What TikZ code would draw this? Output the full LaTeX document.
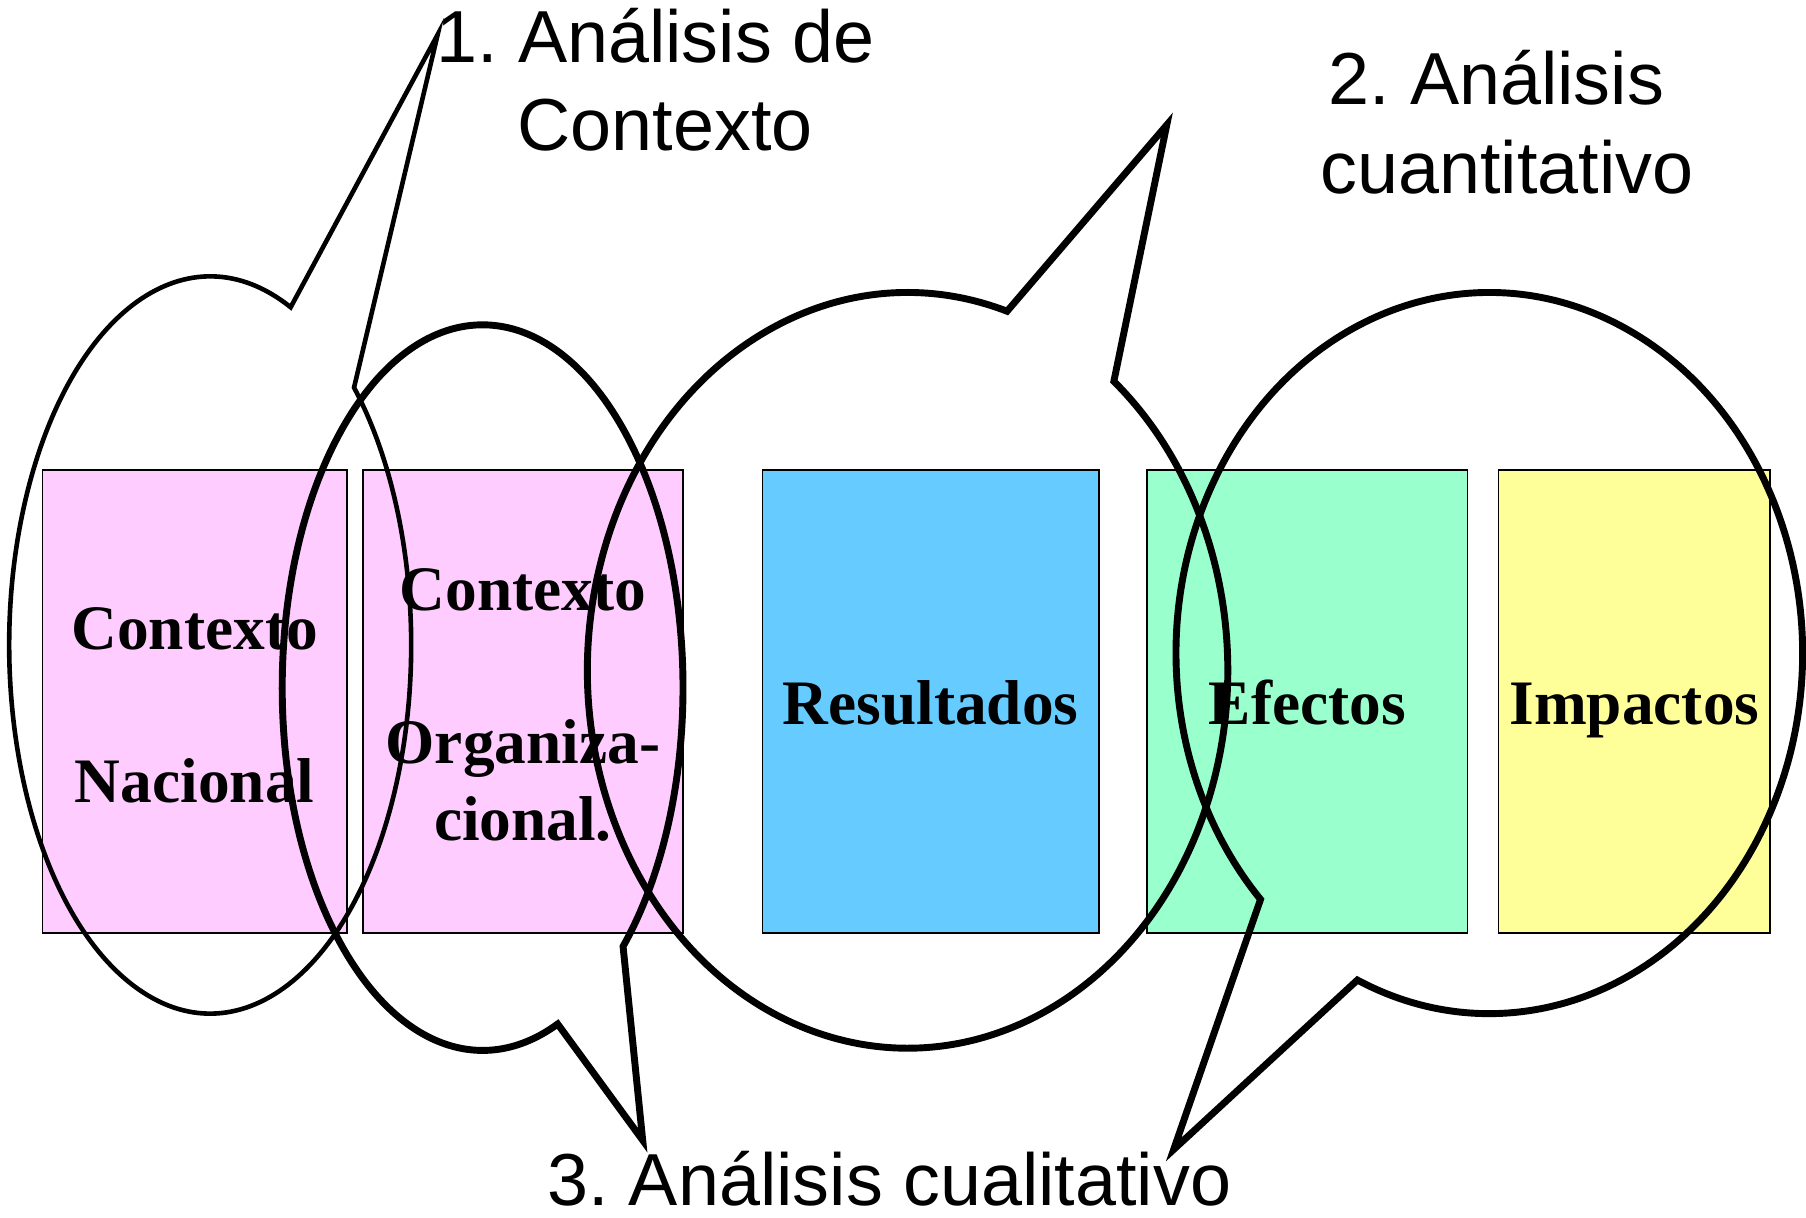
\documentclass[tikz,border=0pt]{standalone}
\usepackage{fontspec}
\setmainfont{Liberation Serif}
\newfontfamily\lsans{Liberation Sans}
\definecolor{cpink}{HTML}{FFCCFF}
\definecolor{cblue}{HTML}{66CCFF}
\definecolor{cgreen}{HTML}{99FFCC}
\definecolor{cyellow}{HTML}{FFFF99}
\frenchspacing
\begin{document}
\begin{tikzpicture}[x=1pt,y=1pt,
  box/.style={draw=black, line width=1.5pt, inner sep=0pt, align=center,
    minimum height=402pt, font=\fontsize{55}{66.5}\selectfont\bfseries},
  single/.style={text height=40pt, text depth=0pt},
  lbl/.style={anchor=base, inner sep=0pt, font=\lsans\fontsize{64}{77}\selectfont},
  thinball/.style={line width=4pt, line join=miter},
  thickball/.style={line width=6pt, line join=miter}]
\useasboundingbox (0,0) rectangle (1568,1057);

% boxes
\node[box, fill=cpink, minimum width=264pt] (r1) at (169,448) {\rule{0pt}{43pt}Contexto\\[66.5pt]Nacional};
\node[box, fill=cpink, minimum width=278pt] (r2) at (454,448) {\rule{0pt}{42pt}Contexto\\[66.5pt]Organiza-\\cional.};
\node[box, single, fill=cblue, minimum width=292pt] (r3) at (808,448) {Resultados};
\node[box, single, fill=cgreen, minimum width=278pt] (r4) at (1135,448) {Efectos};
\node[box, single, fill=cyellow, minimum width=236pt] (r5) at (1419,448) {Impactos};

% callouts
\coordinate (ca) at (182.5,497);
\coordinate (pa) at (380,1027);
\draw[thinball] (ca) ++(66.4:174.5 and 320)
  arc[start angle=66.4, end angle=404.3, x radius=174.5pt, y radius=320pt] -- (pa) -- cycle;

\coordinate (cb) at (419,460);
\coordinate (pb) at (558,67);
\draw[thickball] (cb) ++(-45.5:174 and 315)
  arc[start angle=-45.5, end angle=292, x radius=174pt, y radius=315pt] -- (pb) -- cycle;

\coordinate (cc) at (788,475);
\coordinate (pc) at (1013,948.5);
\draw[thickball] (cc) ++(71.9:278 and 328)
  arc[start angle=71.9, end angle=409.9, x radius=278pt, y radius=328pt] -- (pc) -- cycle;

\coordinate (cd) at (1293,490);
\coordinate (pd) at (1019,59);
\draw[thickball] (cd) ++(245.1:272 and 313)
  arc[start angle=245.1, end angle=583.1, x radius=272pt, y radius=313pt] -- (pd) -- cycle;

% labels
\node[lbl] (t1a) at (569,1003) {1. Análisis de};
\node[lbl] (t1b) at (577.5,926) {Contexto};
\node[lbl] (t2a) at (1299,966) {2. Análisis};
\node[lbl] (t2b) at (1308.5,889) {cuantitativo};
\node[lbl] (t3) at (772,10) {3. Análisis cualitativo};
\end{tikzpicture}
\end{document}
